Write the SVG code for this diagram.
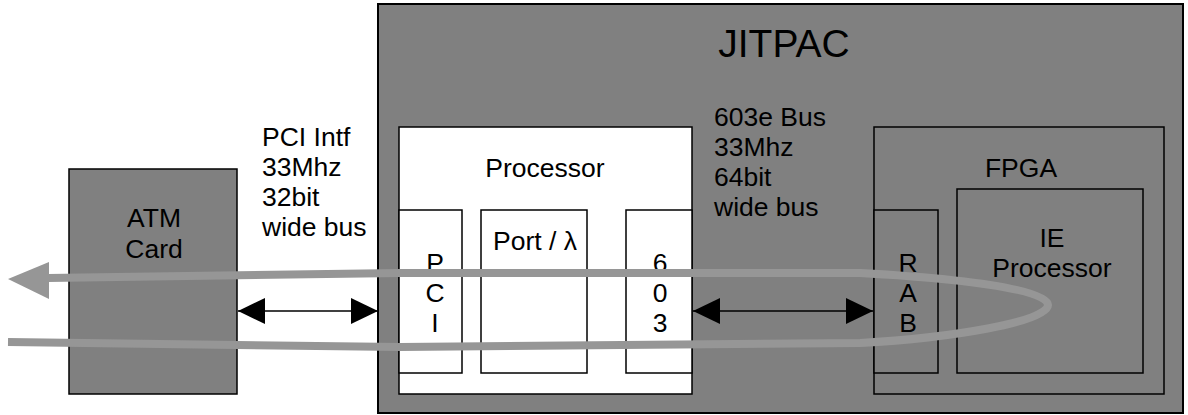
<svg xmlns="http://www.w3.org/2000/svg" width="1188" height="415" viewBox="0 0 1188 415">
<style>
text{font-family:"Liberation Sans",Arial,sans-serif;font-size:26.5px;fill:#000}
.mid{text-anchor:middle}
.box{stroke:#000;stroke-width:1.5}
.gray{fill:#808080}
.white{fill:#fff}
.bus{stroke:#000;stroke-width:1.5;fill:none}
.flow{stroke:#969696;stroke-width:8;fill:none;stroke-linejoin:round}
</style>
<defs>
<marker id="ah" markerUnits="userSpaceOnUse" markerWidth="28" markerHeight="28" viewBox="0 0 28 28" refX="27" refY="14" orient="auto-start-reverse">
<path d="M0,1 L27,14 L0,27 Z" fill="#000"/>
</marker>
</defs>
<rect width="1188" height="415" fill="#fff"/>
<g id="jitpac">
<rect x="378" y="4" width="805" height="409" class="gray" stroke="#000" stroke-width="2"/>
<text x="784" y="57" class="mid" style="font-size:39px">JITPAC</text>
</g>
<g id="atm">
<rect x="69" y="169" width="168" height="225" class="box gray"/>
<text x="154" y="227" class="mid">ATM</text>
<text x="154" y="258" class="mid">Card</text>
</g>
<g id="processor">
<rect x="399" y="127" width="293" height="267" class="box white"/>
<text x="545" y="177" class="mid">Processor</text>
</g>
<g id="pci">
<rect x="399" y="210" width="63" height="163" class="box white"/>
<text x="435" y="272" class="mid">P</text>
<text x="435" y="302" class="mid">C</text>
<text x="435" y="332" class="mid">I</text>
</g>
<g id="port">
<rect x="481" y="210" width="106" height="163" class="box white"/>
<text x="493" y="250">Port / λ</text>
</g>
<g id="p603">
<rect x="626" y="210" width="66" height="163" class="box white"/>
<text x="660" y="272" class="mid">6</text>
<text x="660" y="302" class="mid">0</text>
<text x="660" y="332" class="mid">3</text>
</g>
<g id="fpga">
<rect x="874" y="127" width="290" height="267" class="box gray"/>
<text x="1021" y="177" class="mid">FPGA</text>
</g>
<g id="rab">
<rect x="874" y="210" width="64" height="163" class="box gray"/>
<text x="908" y="272" class="mid">R</text>
<text x="908" y="302" class="mid">A</text>
<text x="908" y="332" class="mid">B</text>
</g>
<g id="ie">
<rect x="957" y="189" width="186" height="184" class="box gray"/>
<text x="1052" y="247" class="mid">IE</text>
<text x="1052" y="277" class="mid">Processor</text>
</g>
<g id="labels">
<text x="262" y="146">PCI Intf</text>
<text x="262" y="176">33Mhz</text>
<text x="262" y="206">32bit</text>
<text x="262" y="236">wide bus</text>
<text x="714" y="126">603e Bus</text>
<text x="714" y="156">33Mhz</text>
<text x="714" y="186">64bit</text>
<text x="714" y="216">wide bus</text>
</g>
<g id="connectors">
<line x1="238" y1="311" x2="378" y2="311" class="bus" marker-start="url(#ah)" marker-end="url(#ah)"/>
<line x1="693" y1="311" x2="873" y2="311" class="bus" marker-start="url(#ah)" marker-end="url(#ah)"/>
<path class="flow" d="M48,278 L400,273 L860,273 C950,278 1048,288 1048,305 C1048,322 950,338 860,343 L400,347 L8,342"/>
<path d="M8,279 L49,262 L49,299 Z" fill="#969696"/>
</g>
</svg>
